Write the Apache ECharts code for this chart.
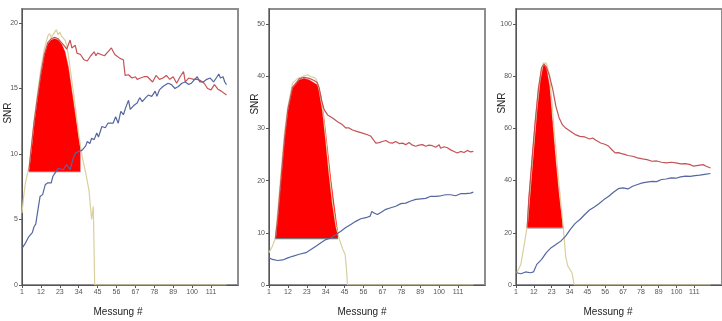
<!DOCTYPE html>
<html><head><meta charset="utf-8">
<script src="https://cdn.jsdelivr.net/npm/echarts@6/dist/echarts.min.js"></script>
<style>html,body{margin:0;padding:0;background:#fff}#c{width:722px;height:321px}</style>
</head><body><div id="c"></div>
<script>
// ---------- data ----------
const xTicks = [1, 12, 23, 34, 45, 56, 67, 78, 89, 100, 111];
const yTicks1 = [0, 5, 10, 15, 20];
const yTicks2 = [0, 10, 20, 30, 40, 50];
const yTicks3 = [0, 20, 40, 60, 80, 100];
const xTitle = 'Messung #';
const yTitle = 'SNR';

// panel 1
const p1Tan = [[1,5.5],[2,6.8],[3,7.8],[4,8.4],[5,8.9],[6,10],[7,11.2],[8,12.5],[10,14.6],[12,16.5],[14,18],[16,19],[17,19.2],[18,18.9],[19,19.1],[20,19.2],[21,19.5],[22,19.1],[23,19.3],[24,19.0],[25,19.1],[26,18.7],[27,18.3],[28,17.5],[30,15.6],[32,13.6],[34,11.5],[36,9.8],[38,8.6],[40,7.2],[41.5,5.0],[42.5,6.0],[43.3,0],[120,0]];
const p1Fill = [[5,8.65],[6,9.8],[7,11],[8,12.3],[10,14.2],[12,16],[14,17.5],[16,18.4],[18,18.7],[20,18.8],[22,18.7],[24,18.4],[26,17.8],[28,16.6],[30,14.8],[32,13],[34,11.2],[35,10.4]];
const p1Base = [[5,8.65],[35,8.65]];
const p1Red = [[5,8.7],[6,10],[8,12.4],[10,14.3],[12,16.1],[14,17.6],[16,18.5],[18,18.8],[20,18.9],[22,18.8],[24,18.5],[26,18.2],[27,18.0],[29,18.7],[30,18.1],[32,18.3],[33,17.7],[35,17.6],[37,17.2],[39,17.1],[41,17.5],[43,17.8],[44,17.5],[45,17.7],[47,17.6],[49,17.5],[51,17.8],[53,18.1],[55,17.6],[58,17.3],[60,17.2],[61,16.0],[63,16.05],[65,15.8],[67,15.9],[68,15.7],[70,15.8],[72,15.9],[74,15.9],[77,15.5],[79,16.0],[81,15.7],[83,15.8],[85,16.0],[87,15.7],[89,15.9],[91,15.4],[93,15.9],[95,16.3],[96,15.5],[98,15.8],[101,15.7],[103,15.7],[105,15.6],[107,15.4],[109,15.0],[111,14.9],[113,15.3],[115,14.95],[117,14.8],[120,14.5]];
const p1Blue = [[1,2.8],[3,3.2],[5,3.7],[7,4.0],[8,4.45],[9,4.65],[10,5.5],[11.5,6.75],[13,6.9],[14.5,7.65],[16,7.8],[18,7.8],[19,8.3],[20,8.5],[22,8.9],[23,9.05],[25,8.8],[27,9.2],[29,8.8],[30.5,9.55],[32,10.05],[34,10.2],[36,10.3],[38,10.6],[39,10.95],[40.5,10.8],[41.5,11.2],[43,11.1],[44.5,11.6],[45.5,11.3],[47.5,12.1],[49.5,12.0],[51,12.35],[52,12.5],[54,12.35],[55.5,12.85],[57,12.35],[58.5,13.25],[60,13.0],[61.5,13.6],[63,14.1],[64,13.4],[66,13.7],[68,13.9],[69.5,14.3],[71,14.0],[73,14.3],[74.5,14.5],[76.5,14.4],[78.5,14.8],[79.5,14.4],[81,14.9],[83,15.15],[84,15.3],[86,15.4],[88,15.3],[90,15.0],[92,15.15],[94,15.4],[96,15.5],[98,15.3],[99.5,15.4],[101.5,15.7],[103,15.9],[104.5,15.5],[106.5,15.5],[108.5,15.7],[110.5,15.8],[112.5,15.5],[114.5,15.9],[115.5,16.1],[116.5,15.8],[118,15.9],[119,15.5],[120,15.3]];

// panel 2
const p2Tan = [[1,6.2],[3,7.45],[4.7,8.9],[6,13.8],[8,21.5],[10,29.1],[12,34.2],[14.7,38.7],[17.7,39.6],[19.6,39.8],[21.5,40.1],[23.5,40.3],[25.4,39.9],[27.3,39.8],[28.7,39.3],[30.2,37.4],[32.2,33.6],[34.1,27.8],[36,21.5],[38,15.7],[40,11.3],[42,8.7],[44,6.8],[45.3,5.9],[46.1,3],[46.7,0],[120,0]];
const p2Fill = [[4.7,8.9],[6,12.5],[8,20.2],[10,27.8],[12,33.6],[14.7,37.7],[18.6,39.3],[21.5,39.6],[24.4,39.3],[27.3,38.7],[29.3,38.3],[31.2,36.4],[33.1,31.7],[35.1,25.9],[37,20.2],[39,15.1],[40.5,11.3],[41.1,10]];
const p2Base = [[4.7,8.9],[41.1,8.9]];
const p2Red = [[4.7,8.9],[6,12.6],[8,20.3],[10,27.9],[12,33.7],[14.7,37.9],[18.6,39.5],[21.5,39.8],[24.4,39.6],[27.3,39.2],[29,38.8],[30.2,37.8],[31.5,35.5],[33.1,33.6],[35.1,32.6],[38,32.0],[40.9,31.3],[43.8,30.7],[45.7,30.1],[47.6,30.1],[49.6,29.7],[52.5,29.4],[55.4,29.1],[58.3,28.8],[60.3,28.5],[61.8,27.8],[63.2,27.2],[65.1,27.3],[67,27.5],[69,27.7],[70.9,27.3],[72.8,27.2],[74.8,27.5],[76.7,27.1],[78.7,27.2],[80.6,26.9],[82.5,27.3],[84.5,26.8],[86.4,26.6],[88.3,26.8],[90.3,26.9],[92.2,26.6],[94.1,26.8],[96.1,26.7],[98,26.4],[100,26.9],[100.9,26.2],[102.9,26.5],[104.8,26.3],[106.7,25.9],[108.7,25.6],[110.6,25.3],[112.5,25.6],[114.5,25.4],[116.4,25.8],[118.3,25.5],[119.9,25.6]];
const p2Blue = [[1,5.2],[3,4.9],[6,4.7],[9,4.8],[12,5.2],[14.7,5.5],[18.6,5.9],[22.5,6.2],[25.4,6.8],[28.3,7.45],[31.2,8.1],[34.1,8.7],[37,9.0],[40,9.7],[42.8,10.3],[45.7,11.0],[48.6,11.6],[51.5,12.2],[54.4,12.7],[57.4,12.9],[59.9,13.2],[60.8,14.1],[62.2,13.8],[64.1,13.5],[66.1,13.9],[69,14.5],[71.9,14.8],[74.8,15.1],[77.7,15.6],[80.6,15.7],[83.5,16.1],[86.4,16.4],[89.3,16.5],[92.2,16.6],[95.1,17.0],[98,17.0],[100.9,17.1],[103.8,17.3],[106.7,17.3],[109.6,17.1],[112.5,17.5],[115.4,17.5],[118.3,17.6],[119.9,17.8]];

// panel 3
const p3Tan = [[1.4,4.7],[2.6,6],[4,7.9],[5.9,14.9],[7.9,22.5],[10.9,45.5],[13.8,67.1],[15.8,78.6],[17.8,85],[19.7,85],[21.7,80.5],[24.7,58.2],[27.6,37.8],[30.2,21.9],[31.6,11.1],[32.9,7.3],[35.5,4.7],[36.9,0],[121,0]];
const p3Fill = [[7.9,21.9],[8.9,32.7],[10.9,48],[12.8,62],[14.8,74.8],[16.8,83],[18.3,84.3],[19.7,83],[21.7,76],[23.7,60.8],[25.6,46.8],[27.6,34],[29.6,23.8],[29.8,21.9]];
const p3Base = [[7.9,21.9],[29.8,21.9]];
const p3Red = [[7.9,22],[8.9,33],[10.9,48.3],[12.8,62.3],[14.8,75.1],[16.8,83.3],[18.3,84.6],[19.7,83.5],[21.7,79.9],[23.7,74.8],[25.6,68.4],[27.6,64],[29.6,61.4],[31.6,60.1],[34.5,58.9],[37.5,57.6],[40.4,56.9],[43.4,56.7],[46.3,55.9],[48.3,56.3],[50.3,55.4],[53.2,54.4],[56.2,53.8],[58.2,53.1],[60.1,51.8],[62.1,50.6],[64.1,50.7],[66,50.3],[68,50.0],[70,49.6],[72.9,49.3],[75.9,48.7],[78.9,48.3],[81.8,48],[84.8,47.4],[87.7,47.5],[90.7,47],[93.6,46.8],[96.6,47.0],[99.6,46.8],[102.5,46.4],[105.5,46.5],[108.4,46.1],[110.4,45.5],[113.3,45.8],[116.3,46.1],[118.3,45.5],[120.9,44.8]];
const p3Blue = [[1.4,4.7],[4,4.3],[6.9,5],[9.9,4.7],[11.8,5],[13.8,7.9],[16.8,9.8],[19.7,12.4],[22.7,14.3],[25.6,15.5],[28.6,16.8],[31.6,18.7],[34.5,21.3],[37.5,23.6],[40.4,25.1],[43.4,27],[46.3,28.7],[49.3,29.9],[52.3,31.2],[55.2,32.7],[58.2,34],[61.1,35.5],[64.1,36.9],[67,37.2],[70,36.8],[72.9,37.8],[75.9,38.5],[78.9,39.1],[81.8,39.4],[84.8,39.7],[87.7,39.6],[90.7,40.4],[93.6,40.6],[96.6,41],[99.6,40.9],[102.5,41.4],[105.5,41.7],[108.4,41.6],[111.4,41.9],[114.3,42.1],[117.3,42.4],[120.9,42.7]];

// ---------- build ----------
const panels = [
  {left: 22,  xMax: 126.7, yMax: 21.07, yTicks: yTicks1, tan: p1Tan, fill: p1Fill, base: p1Base, red: p1Red, blue: p1Blue, snrY: 113, msX: 118},
  {left: 269, xMax: 126.7, yMax: 52.9,  yTicks: yTicks2, tan: p2Tan, fill: p2Fill, base: p2Base, red: p2Red, blue: p2Blue, snrY: 104, msX: 362},
  {left: 516, xMax: 128,   yMax: 105.7, yTicks: yTicks3, tan: p3Tan, fill: p3Fill, base: p3Base, red: p3Red, blue: p3Blue, snrY: 103, msX: 608}
];
const FONT = 'Liberation Sans, Arial, sans-serif';
const grids = [], xAxes = [], yAxes = [], series = [], graphics = [];
panels.forEach((p, i) => {
  grids.push({left: p.left, top: 9, width: 216, height: 276, show: true, borderColor: '#8e8e8e', borderWidth: 2, backgroundColor: 'transparent'});
  xAxes.push({type: 'value', gridIndex: i, min: 1, max: p.xMax,
    axisLine: {lineStyle: {color: '#555', width: 1}},
    axisTick: {customValues: xTicks, length: 3, lineStyle: {color: '#555'}},
    axisLabel: {customValues: xTicks, fontSize: 7, color: '#555', margin: 4, fontFamily: FONT},
    splitLine: {show: false}});
  yAxes.push({type: 'value', gridIndex: i, min: 0, max: p.yMax,
    axisLine: {show: true, lineStyle: {color: '#555', width: 1}},
    axisTick: {show: true, customValues: p.yTicks, length: 3, lineStyle: {color: '#555'}},
    axisLabel: {customValues: p.yTicks, fontSize: 7, color: '#555', margin: 4, fontFamily: FONT},
    splitLine: {show: false}});
  const baseVal = p.base[0][1];
  series.push({type: 'line', xAxisIndex: i, yAxisIndex: i, data: p.fill, showSymbol: false, silent: true,
    lineStyle: {width: 0.5, color: '#ff0000'}, areaStyle: {color: '#ff0000', opacity: 1, origin: baseVal}, z: 1});
  series.push({type: 'line', xAxisIndex: i, yAxisIndex: i, data: p.base, showSymbol: false, silent: true,
    lineStyle: {width: 1.2, color: '#7a7a7a'}, z: 2});
  series.push({type: 'line', xAxisIndex: i, yAxisIndex: i, data: p.tan, showSymbol: false, silent: true,
    lineStyle: {width: 1.2, color: '#d9cf9f'}, z: 3});
  series.push({type: 'line', xAxisIndex: i, yAxisIndex: i, data: p.red, showSymbol: false, silent: true,
    lineStyle: {width: 1.2, color: '#c45357'}, z: 4});
  series.push({type: 'line', xAxisIndex: i, yAxisIndex: i, data: p.blue, showSymbol: false, silent: true,
    lineStyle: {width: 1.2, color: '#5566a0'}, z: 5});
  graphics.push({type: 'text', left: p.left - 21, top: p.snrY - 8, rotation: Math.PI / 2,
    style: {text: yTitle, fontSize: 10, fill: '#222', font: '10px ' + FONT, align: 'center', verticalAlign: 'middle'},
    x: p.left - 14, y: p.snrY, position: [p.left - 14, p.snrY]});
  graphics.push({type: 'text', x: p.msX, y: 312,
    style: {text: xTitle, fill: '#222', font: '10px ' + FONT, align: 'center', verticalAlign: 'middle'}});
});
// fix SNR text placement (use plain x/y with rotation)
graphics.forEach(g => { if (g.style.text === yTitle) { delete g.left; delete g.top; delete g.position; } });

const chart = echarts.init(document.getElementById('c'), null, {renderer: 'canvas'});
chart.setOption({animation: false, backgroundColor: '#fff', grid: grids, xAxis: xAxes, yAxis: yAxes, series: series, graphic: graphics});
</script></body></html>
